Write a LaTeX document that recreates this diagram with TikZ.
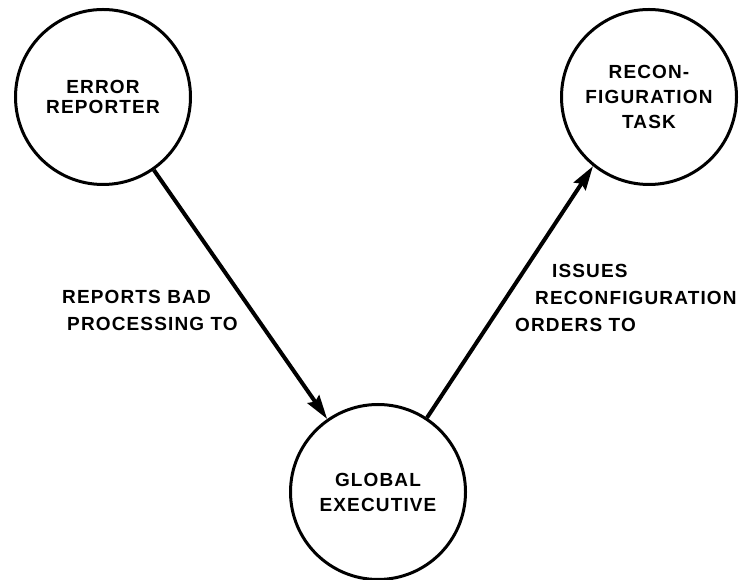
\documentclass[tikz,border=0pt]{standalone}
\usepackage{fontspec}
\setmainfont{Liberation Sans}[LetterSpace=6]
\usetikzlibrary{arrows.meta}
\begin{document}
\begin{tikzpicture}[x=1pt, y=1pt, >={Stealth[length=24pt, width=14pt, inset=3pt]},
        task/.style={draw, circle, line width=3pt, minimum size=175pt, inner sep=0pt,
            align=center, font=\bfseries\fontsize{19}{25}\selectfont},
        link/.style={->, line width=4pt},
        note/.style={anchor=west, inner sep=0pt, align=left, font=\bfseries\fontsize{19}{27}\selectfont}]
    \useasboundingbox (0, 0) rectangle (749, 580);
    \node[task] (er) at (103, 483) {ERROR\\[-5pt]REPORTER};
    \node[task] (rt) at (649, 483) {RECON-\\FIGURATION\\TASK};
    \node[task] (ge) at (378, 88) {GLOBAL\\EXECUTIVE};
    \draw[link] (er) -- (ge);
    \draw[link] (ge) -- (rt.231);
    \node[note] (rb) at (62, 270) {REPORTS BAD\\\hspace*{5pt}PROCESSING TO};
    \node[note] (ir) at (515, 282) {\hspace*{37pt}ISSUES\\\hspace*{20pt}RECONFIGURATION\\ORDERS TO};
\end{tikzpicture}
\end{document}
